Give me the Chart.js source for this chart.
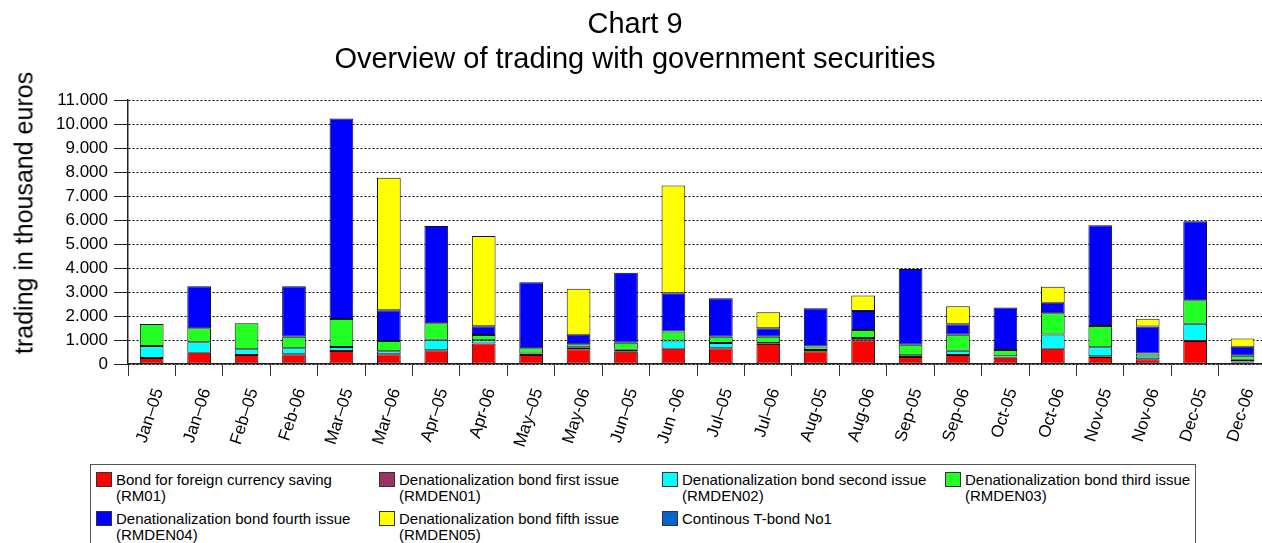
<!DOCTYPE html>
<html>
<head>
<meta charset="utf-8">
<script src="https://cdn.jsdelivr.net/npm/chart.js@4/dist/chart.umd.min.js"></script>
<style>
  html, body { margin:0; padding:0; background:#fff; overflow:hidden; }
  body { width:1262px; height:543px; position:relative; font-family:"Liberation Sans", Arial, sans-serif; }
  #wrap { position:absolute; left:0; top:0; width:1272px; height:464px; }
  #ytitle { position:absolute; left:24px; top:213px; transform:translate(-50%,-50%) rotate(-90deg); white-space:nowrap; font-size:25px; color:#000; }
  #legend { position:absolute; left:90px; top:464px; width:1106px; height:100px; border:1px solid #555; box-sizing:border-box; }
  .item { position:absolute; font-size:15px; line-height:16px; color:#000; }
  .sw { position:absolute; left:0; top:0; width:16px; height:15px; border:1px solid #333; box-sizing:border-box; }
  .tx { position:absolute; left:20px; top:0; white-space:nowrap; }
</style>
</head>
<body>
<div id="wrap"><canvas id="c" width="1272" height="464"></canvas></div>
<div id="ytitle">trading in thousand euros</div>
<div id="legend"></div>
<script>
const categories = ["Jan\u201305","Jan\u201306","Feb\u201305","Feb-06","Mar\u201305","Mar\u201306","Apr\u201305","Apr-06","May\u201305","May-06","Jun\u201305","Jun -06","Jul\u201305","Jul\u201306","Aug-05","Aug-06","Sep-05","Sep-06","Oct-05","Oct-06","Nov-05","Nov-06","Dec-05","Dec-06"];

const rm01     = [250, 470, 375, 405, 540, 405, 570, 850, 375, 610, 510, 640, 655, 830, 530, 990, 290, 375, 260, 640, 290, 200, 960, 60];
const rmden01  = [0, 0, 0, 0, 0, 0, 0, 0, 40, 0, 0, 0, 0, 30, 0, 0, 0, 0, 40, 0, 30, 0, 0, 40];
const rmden02  = [500, 435, 235, 250, 165, 125, 440, 140, 20, 85, 85, 335, 220, 20, 55, 95, 70, 180, 20, 585, 375, 115, 720, 80];
const rmden03  = [920, 585, 1085, 485, 1165, 430, 685, 220, 220, 125, 290, 375, 260, 260, 140, 335, 440, 665, 265, 890, 890, 125, 975, 165];
const rmden04  = [0, 1750, 0, 2100, 8360, 1280, 4055, 365, 2750, 400, 2915, 1600, 1600, 350, 1600, 790, 3155, 435, 1765, 440, 4195, 1125, 3290, 375];
const rmden05  = [0, 0, 0, 0, 0, 5525, 0, 3760, 0, 1915, 0, 4485, 0, 665, 0, 640, 0, 750, 0, 665, 0, 320, 0, 345];
const tbond1   = [0, 0, 0, 0, 0, 0, 0, 0, 0, 0, 0, 0, 0, 0, 0, 0, 0, 0, 0, 0, 0, 0, 0, 0];

const yTicks = [0,1000,2000,3000,4000,5000,6000,7000,8000,9000,10000,11000];

const seriesNames = [
  ["Bond for foreign currency saving","(RM01)"],
  ["Denationalization bond first issue","(RMDEN01)"],
  ["Denationalization bond second issue","(RMDEN02)"],
  ["Denationalization bond third issue","(RMDEN03)"],
  ["Denationalization bond fourth issue","(RMDEN04)"],
  ["Denationalization bond fifth issue","(RMDEN05)"],
  ["Continous T-bond No1"]
];
const seriesData = [rm01, rmden01, rmden02, rmden03, rmden04, rmden05, tbond1];
const seriesColors = ["#ff0000","#993366","#00ffff","#22ff22","#0000ff","#ffff00","#0066cc"];

const FONT = "'Liberation Sans', Arial, sans-serif";

const datasets = seriesData.map((d, i) => ({
  label: seriesNames[i].join(" "),
  data: d,
  backgroundColor: seriesColors[i],
  borderColor: "#111",
  borderWidth: 1,
  borderSkipped: false,
  categoryPercentage: 1.0,
  barPercentage: 0.5,
  stack: "s"
}));

function fmt(v) {
  return String(v).replace(/\B(?=(\d{3})+(?!\d))/g, ".");
}

new Chart(document.getElementById("c"), {
  type: "bar",
  data: { labels: categories, datasets },
  options: {
    responsive: false,
    animation: false,
    layout: { padding: { left: 0, right: 2, top: 0, bottom: 0 } },
    plugins: {
      legend: { display: false },
      tooltip: { enabled: false },
      title: {
        display: true,
        text: ["Chart 9", "Overview of trading with government securities"],
        color: "#000",
        font: { family: FONT, size: 29, weight: "normal", lineHeight: 1.2 },
        padding: { top: 8, bottom: 22.4 }
      }
    },
    scales: {
      x: {
        stacked: true,
        offset: true,
        grid: { display: true, drawOnChartArea: false, drawTicks: true, tickLength: 12, tickColor: "#333", offset: true },
        border: { display: true, color: "#222", width: 1.5 },
        ticks: { color: "#000", font: { family: FONT, size: 17 }, minRotation: 72, maxRotation: 72, padding: 10, labelOffset: 7, autoSkip: false },
        afterFit: (s) => { s.height = 100; }
      },
      y: {
        stacked: true,
        min: 0, max: 11000,
        afterBuildTicks: (s) => { s.ticks = yTicks.map(v => ({ value: v })); },
        grid: { color: "#000", lineWidth: 1, drawTicks: true, tickLength: 14, tickColor: "#222", tickBorderDash: [] },
        border: { display: true, color: "#222", width: 1.5, dash: [2, 2] },
        ticks: { color: "#000", font: { family: FONT, size: 17 }, padding: 6, callback: (v) => fmt(v) },
        afterFit: (s) => { s.width = 128; }
      }
    }
  }
});

// HTML legend built from the datasets
const legend = document.getElementById("legend");
const colX = [5, 288, 571, 854];
const rowY = [7, 46];
seriesNames.forEach((lines, i) => {
  const it = document.createElement("div");
  it.className = "item";
  it.style.left = colX[i % 4] + "px";
  it.style.top = rowY[Math.floor(i / 4)] + "px";
  const sw = document.createElement("div");
  sw.className = "sw";
  sw.style.background = seriesColors[i];
  const tx = document.createElement("div");
  tx.className = "tx";
  tx.innerHTML = lines.join("<br>");
  it.appendChild(sw); it.appendChild(tx);
  legend.appendChild(it);
});
</script>
</body>
</html>
